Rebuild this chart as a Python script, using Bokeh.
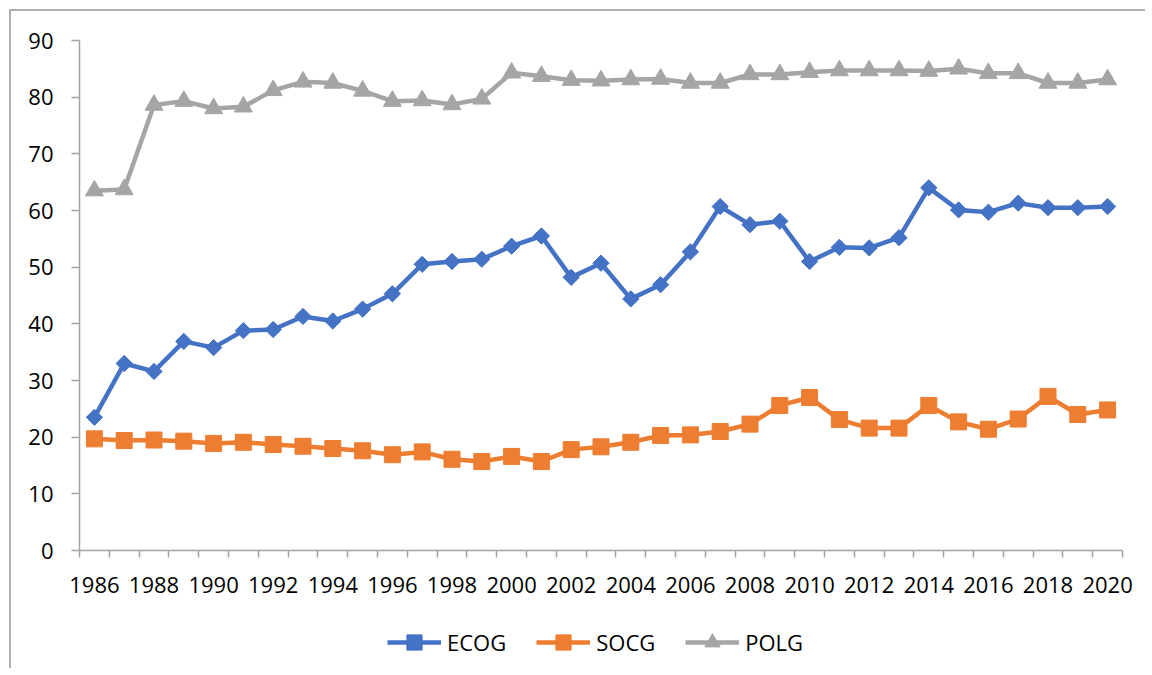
import numpy as np
from bokeh.plotting import figure
from bokeh.models import Range1d, FixedTicker, Legend, LegendItem
from bokeh.embed import file_html
from bokeh.resources import INLINE

years = list(range(1986, 2021))
ecog = [23.5, 33.0, 31.6, 36.9, 35.8, 38.8, 39.0, 41.3, 40.5, 42.6, 45.3, 50.5, 51.0,
        51.4, 53.7, 55.5, 48.2, 50.7, 44.4, 46.9, 52.7, 60.7, 57.5, 58.1, 51.0, 53.5,
        53.4, 55.2, 64.0, 60.1, 59.7, 61.3, 60.5, 60.5, 60.7]
socg = [19.7, 19.4, 19.5, 19.3, 18.9, 19.1, 18.7, 18.4, 18.0, 17.6, 16.9, 17.4, 16.1,
        15.7, 16.6, 15.7, 17.8, 18.3, 19.1, 20.3, 20.4, 21.0, 22.3, 25.6, 27.0, 23.1,
        21.6, 21.6, 25.6, 22.7, 21.4, 23.2, 27.2, 24.0, 24.8]
polg = [63.5, 63.7, 78.6, 79.3, 78.0, 78.3, 81.2, 82.7, 82.5, 81.1, 79.3, 79.4, 78.7,
        79.7, 84.3, 83.7, 83.0, 82.9, 83.1, 83.2, 82.5, 82.5, 84.0, 84.0, 84.4, 84.7,
        84.7, 84.7, 84.6, 85.0, 84.2, 84.2, 82.5, 82.5, 83.1]
series_names = ["ECOG", "SOCG", "POLG"]
x_tick_labels = list(range(1986, 2021, 2))
y_ticks = list(range(0, 100, 10))

FONT = "Open Sans"
AXIS_COLOR = "#a3a3a3"

W, H = 1136, 659
# plot-area box inside the canvas (pixels): left, right, top (value 90), bottom (value 0)
PL, PR, PT, PB = 68, 1111, 29, 539
x_lo, x_hi = years[0] - 0.5, years[-1] + 0.5
y_lo, y_hi = 0, 90
xs = (PR - PL) / (x_hi - x_lo)
ys = (PB - PT) / (y_hi - y_lo)

# the frame fills the canvas; axes are pinned at the plot-area edges
p = figure(width=W, height=H, output_backend="svg", toolbar_location=None,
           x_range=Range1d(x_lo - PL / xs, x_hi + (W - PR) / xs),
           y_range=Range1d(y_lo - (H - PB) / ys, y_hi + PT / ys),
           min_border_left=0, min_border_right=0, min_border_top=0, min_border_bottom=0)
p.styles = {"margin-left": "9px", "margin-top": "9px",
            "border-left": "2px solid #b0b0b0", "border-top": "2px solid #b0b0b0"}
p.outline_line_color = None
p.xgrid.grid_line_color = None
p.ygrid.grid_line_color = None
p.background_fill_color = "white"
p.border_fill_color = "white"

# x axis (category axis, drawn at value 0)
p.xaxis.fixed_location = y_lo
p.xaxis.bounds = (x_lo, x_hi)
p.xaxis.ticker = FixedTicker(ticks=x_tick_labels,
                             minor_ticks=[y - 0.5 for y in range(1986, 2022)])
p.xaxis.major_tick_out = 0
p.xaxis.major_tick_in = 0
p.xaxis.minor_tick_out = 7
p.xaxis.minor_tick_in = 0
p.xaxis.minor_tick_line_color = AXIS_COLOR
p.xaxis.minor_tick_line_width = 1.5
p.xaxis.axis_line_color = AXIS_COLOR
p.xaxis.axis_line_width = 1.5
p.xaxis.major_label_standoff = 19
p.xaxis.major_label_text_font = FONT
p.xaxis.major_label_text_font_size = "22px"
p.xaxis.major_label_text_color = "black"

# y axis
p.yaxis.fixed_location = x_lo
p.yaxis.bounds = (y_lo, y_hi)
p.yaxis.ticker = FixedTicker(ticks=y_ticks, minor_ticks=[])
p.yaxis.major_tick_out = 8
p.yaxis.major_tick_in = 0
p.yaxis.major_tick_line_color = AXIS_COLOR
p.yaxis.major_tick_line_width = 1.5
p.yaxis.axis_line_color = AXIS_COLOR
p.yaxis.axis_line_width = 1.5
p.yaxis.major_label_standoff = 18
p.yaxis.major_label_text_font = FONT
p.yaxis.major_label_text_font_size = "22px"
p.yaxis.major_label_text_color = "black"

LW = 4.5
l1 = p.line(years, ecog, line_color="#4472C4", line_width=LW)
s1 = p.scatter(years, ecog, marker="square", size=11.5, angle=np.pi / 4,
               fill_color="#4472C4", line_color="#4472C4")
l2 = p.line(years, socg, line_color="#ED7D31", line_width=LW)
s2 = p.scatter(years, socg, marker="square", size=16,
               fill_color="#ED7D31", line_color="#ED7D31")
l3 = p.line(years, polg, line_color="#A5A5A5", line_width=LW)
s3 = p.scatter(years, polg, marker="triangle", size=18,
               fill_color="#A5A5A5", line_color="#A5A5A5")

legend = Legend(items=[LegendItem(label=series_names[0], renderers=[l1, s1]),
                       LegendItem(label=series_names[1], renderers=[l2, s2]),
                       LegendItem(label=series_names[2], renderers=[l3, s3])],
                orientation="horizontal", location=(PL + 308, 9),
                glyph_width=54, glyph_height=38, label_standoff=6, spacing=30,
                label_text_font=FONT, label_text_font_size="22px",
                label_text_color="black", border_line_color=None,
                background_fill_alpha=0, padding=0, margin=0)
p.add_layout(legend, "center")

open("out.html", "w").write(file_html(p, INLINE))
